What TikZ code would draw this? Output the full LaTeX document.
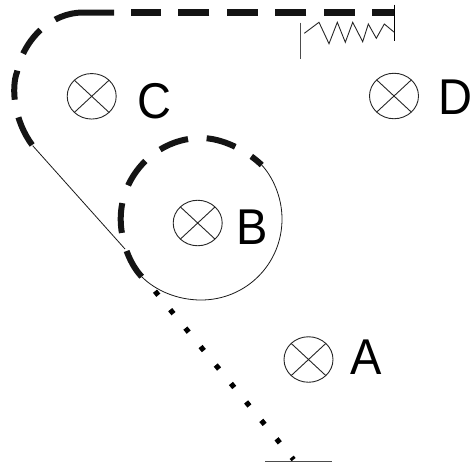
\documentclass[tikz,border=0pt]{standalone}
\usepackage{fontspec}
\setmainfont{Liberation Sans}
\usetikzlibrary{shapes.geometric,calc}
\newcommand{\tallglyph}[1]{\scalebox{1}[1.07]{#1}}
\tikzset{
  ball/.style={ellipse,draw=black!85,line width=0.9pt,minimum width=49pt,minimum height=45.5pt,inner sep=0pt,
    path picture={\draw[black!85,line width=0.9pt]
      (path picture bounding box.north west)--(path picture bounding box.south east)
      (path picture bounding box.north east)--(path picture bounding box.south west);}},
  letter/.style={font=\fontsize{47}{47}\selectfont,inner sep=0pt,text=black},
  thin line/.style={line width=0.8pt,black!90},
  top dash/.style={line width=6.4pt,black!92,dash pattern=on 31pt off 17.5pt,dash phase=9pt},
  arc dash/.style={line width=6pt,black!92,dash pattern=on 60pt off 18pt on 29.5pt off 18pt on 29.5pt off 18pt on 31pt off 500pt},
  ring dash/.style={line width=6pt,black!92,dash pattern=on 30pt off 18.7pt},
  dots/.style={line width=5.2pt,black,dash pattern=on 5.2pt off 18.7pt},
  wall/.style={line width=1pt,black!70},
}
\begin{document}
\begin{tikzpicture}[x=1pt,y=-1pt]
\useasboundingbox (0,0) rectangle (473,466);
% balls
\node[ball] (ballC) at (91.7,96.3) {};
\node[ball] (ballD) at (394,96) {};
\node[ball] (ballB) at (197.7,223) {};
\node[ball] (ballA) at (308.5,359.5) {};
% letters
\node[letter] (labelC) at (154,101) {\tallglyph{C}};
\node[letter] (labelD) at (455.5,97) {\tallglyph{D}};
\node[letter] (labelB) at (252.5,227) {\tallglyph{B}};
\node[letter] (labelA) at (366,357) {\tallglyph{A}};
% key points
\coordinate (bigStart) at (32.7,145.7);
\coordinate (ringStart) at (141.7,276.7);
\coordinate (ringEnd) at (261.7,165);
\coordinate (tangent) at (125,249);
\coordinate (dotStart) at (155,291.2);
\coordinate (dotEnd) at (293.6,459.6);
\coordinate (wallRight) at (394.3,12.5);
\coordinate (beltJoin) at (114,12.5);
\coordinate (beltGap) at (131,12.5);
% thick belt over the top
\draw[top dash] (wallRight) -- (beltGap);
\draw[arc dash] (beltJoin) -- (83,12.5)
   .. controls (52,12.5) and (24,38) .. (17,72)
   .. controls (11,88) and (14,121) .. (bigStart);
% ring: dashed part
\draw[ring dash] (ringStart) .. controls (128,262) and (120.7,238) .. (120.7,219)
   .. controls (120.7,175) and (157,138) .. (201,138)
   .. controls (222,138) and (246,150) .. (ringEnd);
% ring: thin part
\draw[thin line] (ringEnd) .. controls (272,176) and (282,196) .. (282,219)
   .. controls (282,264) and (246,300) .. (201,300)
   .. controls (178,300) and (156,291) .. (ringStart);
% thin tangent
\draw[thin line] (bigStart) -- (tangent);
% dotted
\draw[dots] (dotStart) -- (dotEnd);
% ground
\coordinate (g1) at (265,461.7);
\coordinate (g2) at (332,461.7);
\draw[wall] (g1) -- (g2);
% walls
\coordinate (w1a) at (300.7,22.7);
\coordinate (w1b) at (300.7,59);
\coordinate (w2a) at (394.3,4.7);
\coordinate (w2b) at (394.3,41.3);
\draw[wall] (w1a) -- (w1b);
\draw[wall,black] (w2a) -- (w2b);
% spring
\draw[line width=0.9pt,black!85,line join=miter]
 (304.3,33.3)--(319,22.3)--(329,43.7)--(337.3,22.3)--(345.3,42.3)--(352.7,22.3)--(362.7,41.7)--(368.3,24)--(376.3,38.3)--(384.3,24)--(394.3,32.3);
\end{tikzpicture}
\end{document}
